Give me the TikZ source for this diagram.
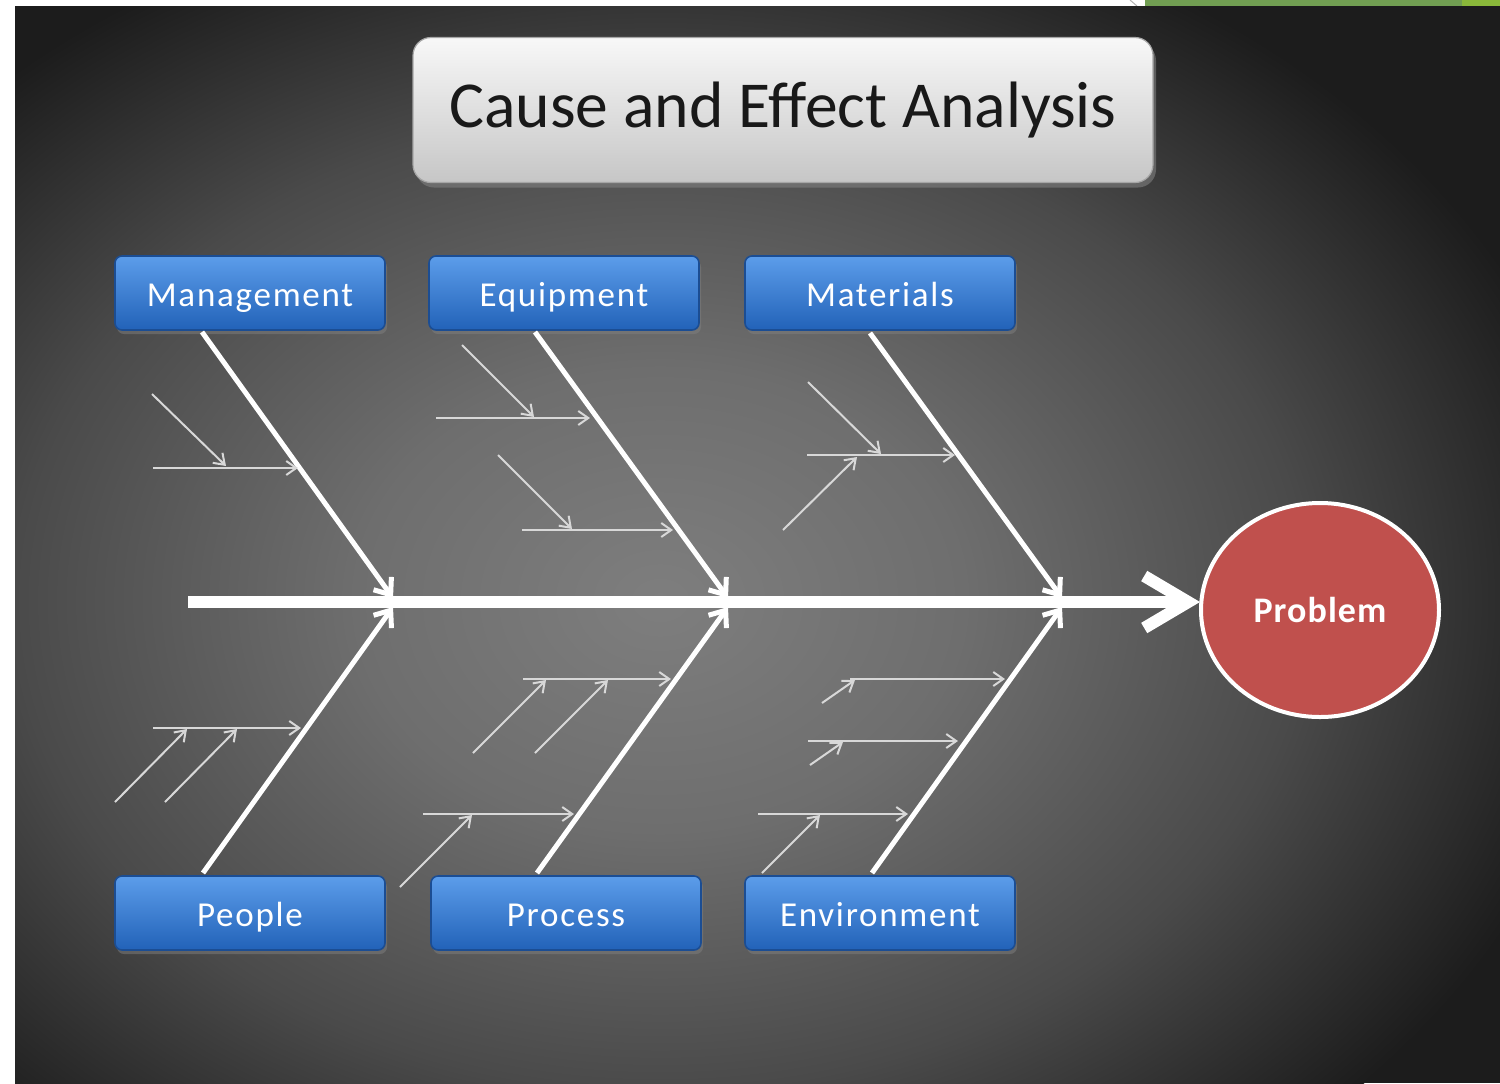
\documentclass[tikz,border=0pt]{standalone}
\usepackage{fontspec}
\setmainfont{Carlito}
\newfontfamily\lblfont[LetterSpace=5]{Carlito}
\newfontfamily\pbfont[LetterSpace=3]{Carlito}
\usetikzlibrary{arrows.meta,shapes.geometric,shadows}
\definecolor{bgA}{HTML}{7E7E7E}
\definecolor{bgB}{HTML}{6E6E6E}
\definecolor{bgC}{HTML}{4A4A4A}
\definecolor{bgD}{HTML}{1C1C1C}
\definecolor{boxTop}{HTML}{5C9DEA}
\definecolor{boxBot}{HTML}{2262B8}
\definecolor{boxBorder}{HTML}{1B4D93}
\definecolor{probRed}{HTML}{C0504D}
\definecolor{causeCol}{HTML}{D8D8D8}
\definecolor{greenA}{HTML}{719E52}
\definecolor{greenB}{HTML}{8AB83A}
\definecolor{titleTop}{HTML}{F8F8F8}
\definecolor{titleBot}{HTML}{C6C6C6}
\pgfdeclareradialshading{bgrad}{\pgfpointorigin}{color(0bp)=(bgA); color(8bp)=(bgB); color(17bp)=(bgC); color(25bp)=(bgD); color(50bp)=(bgD)}
\tikzset{
  box/.style={rounded corners=3.5pt, draw=boxBorder, line width=0.8pt,
    top color=boxTop, bottom color=boxBot, minimum width=135pt, minimum height=37pt,
    text=white, font=\lblfont\fontsize{17.5}{20}\selectfont,
    text height=14pt, text depth=1pt,
    drop shadow={opacity=0.5, shadow xshift=1pt, shadow yshift=-2pt}},
  titlebox/.style={rounded corners=9pt, draw=gray!70, line width=0.6pt,
    top color=titleTop, bottom color=titleBot, minimum width=370pt, minimum height=72.5pt,
    text=black!90, font=\fontsize{32.8}{36}\selectfont,
    drop shadow={opacity=0.6, shadow xshift=1.5pt, shadow yshift=-2.5pt}},
  problem/.style={ellipse, fill=probRed, draw=white, line width=2pt,
    minimum width=119pt, minimum height=107pt, inner sep=0pt,
    text=white, font=\pbfont\bfseries\fontsize{18}{20}\selectfont},
  spine/.style={draw=white, line width=6pt, -{Straight Barb[length=22pt,width=26pt]}},
  bone/.style={draw=white, line width=2.5pt, -{Straight Barb[length=7pt,width=11pt]}},
  cause/.style={draw=causeCol, line width=1pt, -{Straight Barb[length=5pt,width=7pt]}}
}
\begin{document}
\begin{tikzpicture}[x=0.5pt,y=-0.5pt]
\useasboundingbox (0,0) rectangle (1500,1083);
% page decoration
\fill[greenA] (1145,0) rectangle (1462,6);
\fill[greenB] (1462,0) rectangle (1500,6);
\draw[gray!60, line width=0.5pt] (1130,0) -- (1137,6);
% background
\fill[bgD] (15,6) rectangle (1500,1083);
\begin{scope}
  \clip (15,6) rectangle (1500,1083);
  \shade[shading=bgrad] (660,600) ellipse [x radius=950, y radius=720];
\end{scope}
% title
\node[titlebox] (title) at (783,110) {Cause and Effect Analysis};
% category boxes
\node[box] (mgmt) at (250,293) {Management};
\node[box] (equip) at (564,293) {Equipment};
\node[box] (mat) at (880,293) {Materials};
\node[box] (people) at (250,913) {People};
\node[box] (proc) at (566,913) {Process};
\node[box] (env) at (880,913) {Environment};
% problem
\node[problem] (pb) at (1320,610) {Problem};
% spine
\coordinate (tail) at (188,602);
\coordinate (head) at (1200,602);
\draw[spine] (tail) -- (head);
% bone coordinates
\coordinate (mS) at (202,332);  \coordinate (mE) at (393,598);
\coordinate (eS) at (535,332);  \coordinate (eE) at (728,598);
\coordinate (tS) at (870,333);  \coordinate (tE) at (1062,598);
\coordinate (pS) at (203,873);  \coordinate (pE) at (393,607);
\coordinate (rS) at (537,873);  \coordinate (rE) at (728,607);
\coordinate (vS) at (872,873);  \coordinate (vE) at (1062,607);
\draw[bone] (mS) -- (mE);
\draw[bone] (eS) -- (eE);
\draw[bone] (tS) -- (tE);
\draw[bone] (pS) -- (pE);
\draw[bone] (rS) -- (rE);
\draw[bone] (vS) -- (vE);
% management causes
\coordinate (m1s) at (152,394); \coordinate (m1e) at (226,466);
\coordinate (m2s) at (153,468); \coordinate (m2e) at (298,468);
\draw[cause] (m1s) -- (m1e);
\draw[cause] (m2s) -- (m2e);
% equipment causes
\coordinate (e1s) at (462,345); \coordinate (e1e) at (534,417);
\coordinate (e2s) at (436,418); \coordinate (e2e) at (590,418);
\coordinate (e3s) at (498,455); \coordinate (e3e) at (572,529);
\coordinate (e4s) at (522,530); \coordinate (e4e) at (673,530);
\draw[cause] (e1s) -- (e1e);
\draw[cause] (e2s) -- (e2e);
\draw[cause] (e3s) -- (e3e);
\draw[cause] (e4s) -- (e4e);
% materials causes
\coordinate (t1s) at (808,382); \coordinate (t1e) at (881,454);
\coordinate (t2s) at (807,455); \coordinate (t2e) at (955,455);
\coordinate (t3s) at (783,530); \coordinate (t3e) at (857,457);
\draw[cause] (t1s) -- (t1e);
\draw[cause] (t2s) -- (t2e);
\draw[cause] (t3s) -- (t3e);
% people causes
\coordinate (p1s) at (153,728); \coordinate (p1e) at (301,728);
\coordinate (p2s) at (115,802); \coordinate (p2e) at (187,729);
\coordinate (p3s) at (165,802); \coordinate (p3e) at (237,729);
\draw[cause] (p1s) -- (p1e);
\draw[cause] (p2s) -- (p2e);
\draw[cause] (p3s) -- (p3e);
% process causes
\coordinate (r1s) at (523,679); \coordinate (r1e) at (671,679);
\coordinate (r2s) at (473,753); \coordinate (r2e) at (546,680);
\coordinate (r3s) at (535,753); \coordinate (r3e) at (608,680);
\coordinate (r4s) at (423,814); \coordinate (r4e) at (574,814);
\coordinate (r5s) at (400,887); \coordinate (r5e) at (472,815);
\draw[cause] (r1s) -- (r1e);
\draw[cause] (r2s) -- (r2e);
\draw[cause] (r3s) -- (r3e);
\draw[cause] (r4s) -- (r4e);
\draw[cause] (r5s) -- (r5e);
% environment causes
\coordinate (v1s) at (850,679); \coordinate (v1e) at (1005,679);
\coordinate (v2s) at (822,703); \coordinate (v2e) at (855,680);
\coordinate (v3s) at (808,741); \coordinate (v3e) at (958,741);
\coordinate (v4s) at (810,765); \coordinate (v4e) at (843,742);
\coordinate (v5s) at (758,814); \coordinate (v5e) at (908,814);
\coordinate (v6s) at (762,873); \coordinate (v6e) at (820,815);
\draw[cause] (v1s) -- (v1e);
\draw[cause] (v2s) -- (v2e);
\draw[cause] (v3s) -- (v3e);
\draw[cause] (v4s) -- (v4e);
\draw[cause] (v5s) -- (v5e);
\draw[cause] (v6s) -- (v6e);
\end{tikzpicture}
\end{document}
